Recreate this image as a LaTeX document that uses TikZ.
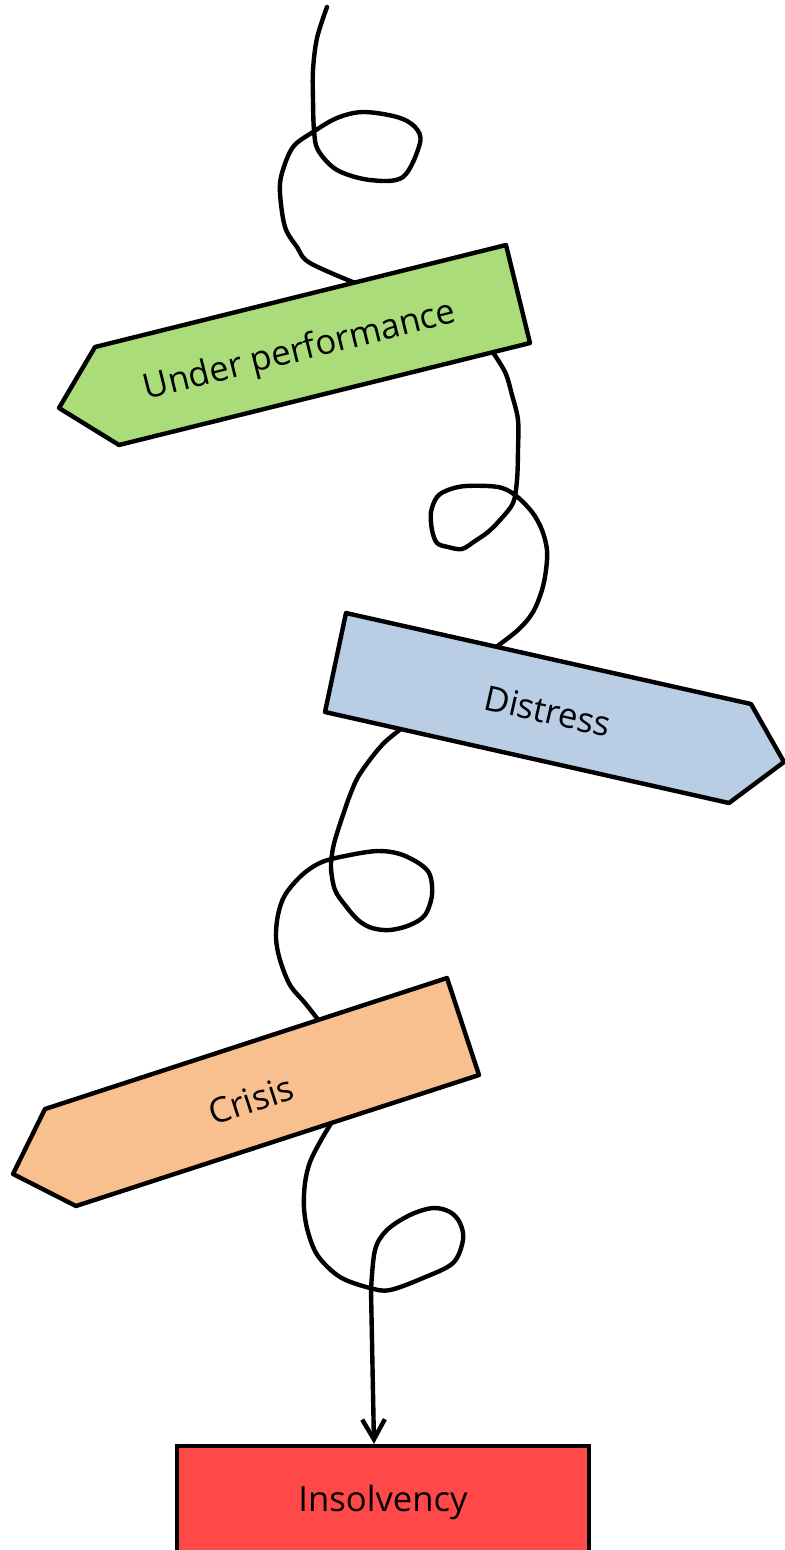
\documentclass[tikz,border=0pt]{standalone}
\usepackage{fontspec}
\setmainfont{Open Sans}
\usetikzlibrary{arrows.meta}

\definecolor{upgreen}{RGB}{171,220,122}
\definecolor{disblue}{RGB}{185,205,228}
\definecolor{criorange}{RGB}{249,192,143}
\definecolor{insred}{RGB}{255,72,72}

\tikzset{
  curl/.style={line width=3.3pt, line cap=round, line join=round},
  sign/.style={draw, line width=3.3pt, line join=round},
  signtext/.style={font=\fontsize{26}{30}\selectfont, inner sep=0pt},
}

\begin{document}
\begin{tikzpicture}[x=0.75pt,y=0.75pt,yscale=-1,xscale=1]
    \useasboundingbox (0,0) rectangle (785,1550);
    \clip (0,0) rectangle (785,1550);

    %Curve: top loop
    \draw [curl] plot [smooth, tension=0.55] coordinates {(327,7) (317,38) (313,70) (313,100) (314,130) (318,150) (337,170) (370,180) (403,177) (420,143) (415,127) (397,117) (363,112) (337,118) (313,132) (293,147) (282,173) (280,193) (285,227) (297,247) (310,263) (360,285)};
    %Curve: second loop
    \draw [curl] plot [smooth, tension=0.55] coordinates {(490,348) (505,372) (512,395) (518,420) (518,450) (517,480) (513,503) (500,520) (488,532) (475,541) (462,549) (448,547) (437,543) (432,530) (431,512) (437,497) (448,490) (466,486) (498,487) (515,495) (532,512) (542,530) (547,550) (546,570) (542,590) (533,612) (518,630) (492,650)};
    %Curve: third loop
    \draw [curl] plot [smooth, tension=0.55] coordinates {(402,728) (385,742) (372,757) (358,777) (350,795) (344,812) (338,830) (333,848) (331,868) (335,890) (345,905) (358,920) (372,928) (390,930) (410,925) (425,915) (432,895) (430,875) (420,864) (400,854) (378,851) (350,855) (322,862) (302,875) (285,895) (278,915) (276,938) (280,960) (290,985) (305,1003) (320,1022)};

    %Insolvency box
    \node [draw, line width=3.3pt, fill=insred, minimum width=309pt, minimum height=84pt, font=\fontsize{26}{30}\selectfont] (ins) at (383,1502) {Insolvency};
    \coordinate (drop) at (374,1300);

    %Curve: last loop with arrow
    \draw [curl, -{Straight Barb[length=15pt,width=17pt]}] plot [smooth, tension=0.55] coordinates {(333,1120) (320,1142) (310,1162) (305,1183) (304,1208) (308,1232) (318,1256) (340,1277) (370,1288) (390,1290) (423,1278) (453,1263) (463,1240) (460,1223) (450,1212) (433,1208) (410,1215) (387,1230) (375,1250) (371,1290)} -- (drop |- ins.north);

    %Signs
    \draw [sign, fill=upgreen] (59,408) -- (95,347) -- (506,245) -- (530,343) -- (119,445) -- cycle;
    \draw [sign, fill=disblue] (346,613) -- (751,704) -- (784,762) -- (729,803) -- (325,712) -- cycle;
    \draw [sign, fill=criorange] (13,1174) -- (45,1109) -- (447,978) -- (479,1075) -- (76,1206) -- cycle;

    % Text Node
    \node [signtext, rotate=14] (up) at (300,352) {Under performance};
    % Text Node
    \node [signtext, rotate=-12.7] (dis) at (548,711) {Distress};
    % Text Node
    \node [signtext, rotate=18] (cri) at (251,1100) {Crisis};

\end{tikzpicture}
\end{document}
